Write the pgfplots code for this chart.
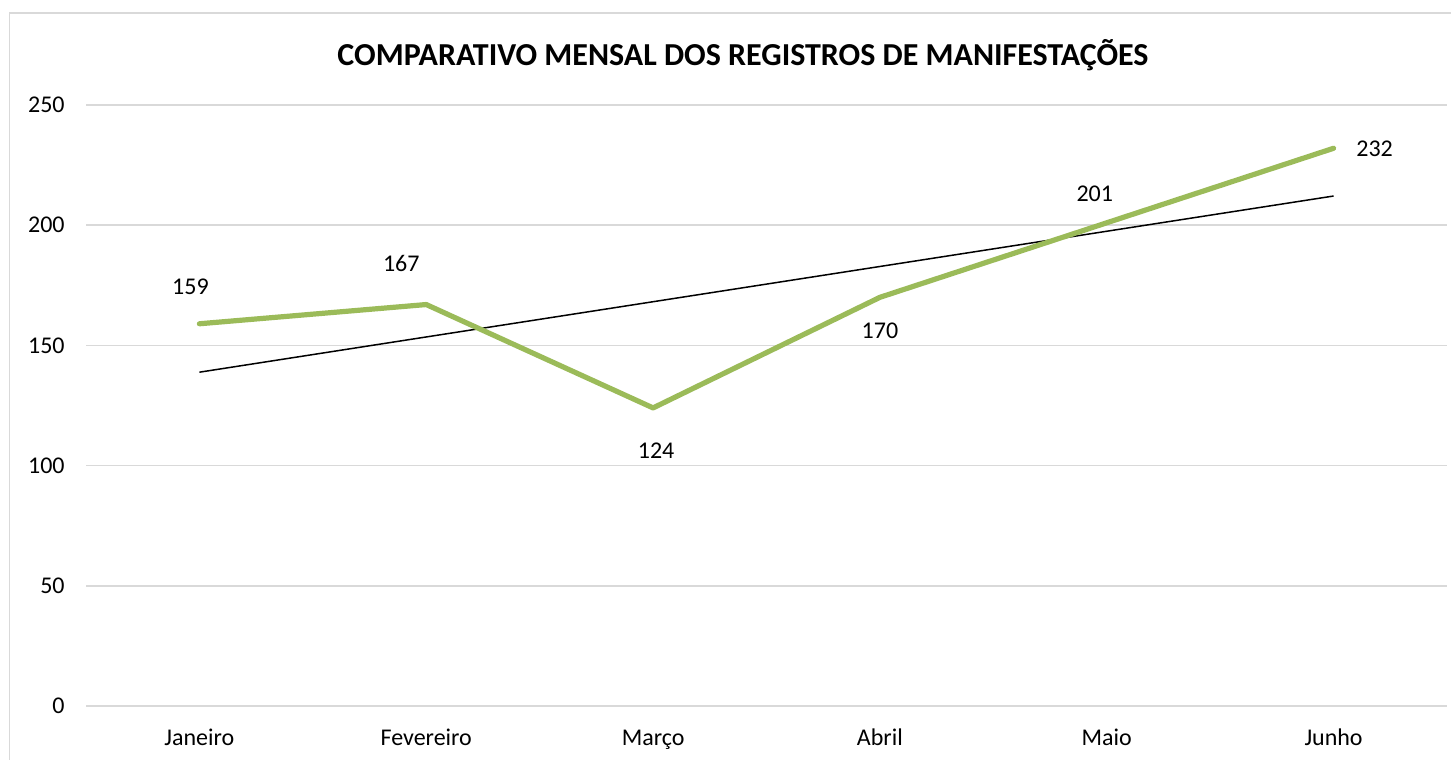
\documentclass[border=0pt]{standalone}
\usepackage{pgfplots}
\pgfplotsset{compat=1.18}
\usepackage{fontspec}
\setmainfont{Carlito}
\definecolor{grn}{HTML}{9BBB59}
\definecolor{gridc}{HTML}{D9D9D9}
\begin{document}
\begin{tikzpicture}
\useasboundingbox (0pt,0pt) rectangle (725.5pt,-380pt);
\draw[gridc, line width=0.75pt] (4.75pt,-400pt) -- (4.75pt,-6.5pt) -- (760pt,-6.5pt);
\node[font=\bfseries\fontsize{16}{18}\selectfont, anchor=center] at (371.5pt,-27.5pt) {COMPARATIVO MENSAL DOS REGISTROS DE MANIFESTAÇÕES};
\begin{axis}[
  at={(43pt,-353pt)}, anchor=south west,
  scale only axis, width=680.5pt, height=300.5pt,
  xmin=0.5, xmax=6.5, ymin=0, ymax=250,
  xtick={1,2,3,4,5,6},
  xticklabels={Janeiro,Fevereiro,Março,Abril,Maio,Junho},
  ytick={0,50,100,150,200,250},
  ymajorgrids, grid style={gridc, line width=0.75pt},
  axis line style={draw=none}, tick style={draw=none},
  /pgf/number format/assume math mode=true,
  tick label style={font=\fontsize{12}{14}\selectfont, text=black},
  yticklabel style={anchor=east, inner sep=0pt, xshift=-10.5pt},
  xticklabel style={anchor=base, inner sep=0pt, yshift=-19.5pt},
  clip=false,
]
\addplot[gridc, line width=0.75pt, forget plot] coordinates {(0.5,0) (6.5,0)};
\addplot[black, line width=0.75pt] coordinates {(1,138.857) (6,212.143)};
\addplot[grn, line width=2.6pt, line cap=round, line join=round] coordinates {(1,159) (2,167) (3,124) (4,170) (5,201) (6,232)};
\addplot[draw=none, mark=none, nodes near coords, point meta=explicit symbolic,
  visualization depends on={\thisrow{dx} \as \dx},
  visualization depends on={\thisrow{dy} \as \dy},
  nodes near coords style={anchor=center, xshift=\dx pt, yshift=\dy pt, font=\fontsize{12}{14}\selectfont, text=black, inner sep=0pt}]
  table[x=x, y=y, meta=lab] {
x y lab dx dy
1 159 159 -4.5 18.5
2 167 167 -12.5 20.5
3 124 124 1.5 -21.5
4 170 170 0 -16.5
5 201 201 -6 14.5
6 232 232 20.5 -0.5
};
\end{axis}
\end{tikzpicture}
\end{document}
